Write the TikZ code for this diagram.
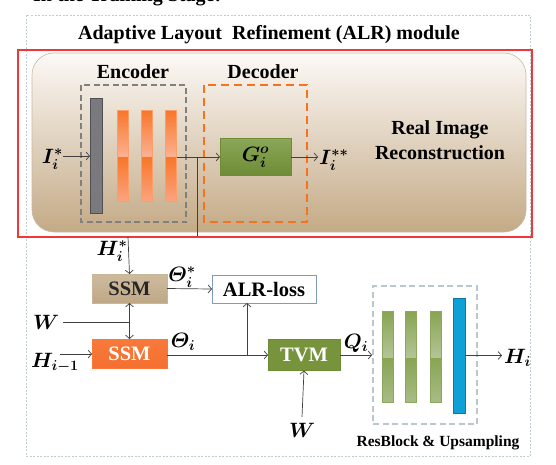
\documentclass[tikz,border=0pt]{standalone}
\usepackage{fontspec}
\setmainfont{Liberation Serif}
\usepackage{amsmath,bm}
\usetikzlibrary{arrows.meta}
\definecolor{tanA}{RGB}{252,249,246}
\definecolor{tanB}{RGB}{196,170,134}
\definecolor{tanE}{RGB}{200,185,165}
\definecolor{redF}{RGB}{240,56,58}
\definecolor{outerc}{RGB}{192,204,208}
\definecolor{encc}{RGB}{128,128,128}
\definecolor{decc}{RGB}{244,115,33}
\definecolor{ora}{RGB}{248,118,40}
\definecolor{oraL}{RGB}{252,178,148}
\definecolor{oraM}{RGB}{251,164,128}
\definecolor{grn}{RGB}{119,147,60}
\definecolor{grnT}{RGB}{138,166,88}
\definecolor{grnB}{RGB}{110,140,54}
\definecolor{gbA}{RGB}{136,164,82}
\definecolor{gbL}{RGB}{180,196,152}
\definecolor{gbM}{RGB}{168,188,136}
\definecolor{gbE}{RGB}{140,168,92}
\definecolor{bluebar}{RGB}{14,160,214}
\definecolor{blueE}{RGB}{10,120,168}
\definecolor{rbc}{RGB}{184,200,204}
\definecolor{ssmT}{RGB}{205,187,159}
\definecolor{ssmM}{RGB}{222,210,192}
\definecolor{ssmB}{RGB}{191,167,132}
\definecolor{ssmE}{RGB}{200,182,150}
\definecolor{soT}{RGB}{248,121,58}
\definecolor{soM}{RGB}{250,156,110}
\definecolor{soB}{RGB}{244,112,48}
\definecolor{alrE}{RGB}{127,156,192}
\definecolor{grayE}{RGB}{80,80,84}
\definecolor{grayF}{RGB}{122,122,126}
\definecolor{linec}{RGB}{64,64,64}
\begin{document}
\begin{tikzpicture}[x=1pt,y=-1pt,
  lbl/.style={font=\fontsize{20}{24}\selectfont\bfseries, inner sep=0pt},
  mlbl/.style={font=\fontsize{22}{26}\selectfont, inner sep=0pt},
  arr/.style={draw=linec, line width=0.7pt, -{Straight Barb[length=3.5pt,width=8pt]}},
  darr/.style={draw=linec, line width=0.7pt, {Straight Barb[length=3.5pt,width=8pt]}-{Straight Barb[length=3.5pt,width=8pt]}},
  ln/.style={draw=linec, line width=0.7pt},
  bar/.style={minimum width=11pt, inner sep=0pt, outer sep=0pt},
  boxn/.style={inner sep=0pt, outer sep=0pt, font=\fontsize{20.5}{24}\selectfont\bfseries}
]
\useasboundingbox (0,0) rectangle (556,464);
\clip (0,0) rectangle (556,464);

% top (cut) caption
\node[lbl, anchor=base west] (cap) at (33,1) {In the Training Stage:};

% outer dashed frame
\draw[outerc, line width=0.8pt, dash pattern=on 2pt off 1.5pt] (26,15) rectangle (530,456);

\node[lbl] (title) at (269,35) {Adaptive Layout\ \ Refinement (ALR) module};

% tan rounded panel
\path[draw=tanE, line width=0.6pt, top color=tanA, bottom color=tanB, rounded corners=22pt] (32,53) rectangle (526,232);

% encoder / decoder frames
\draw[encc, line width=1.8pt, dash pattern=on 6pt off 3.5pt] (81,85) rectangle (186,222);
\draw[decc, line width=1.8pt, dash pattern=on 8pt off 5pt] (204,85) rectangle (307,222);
\node[lbl] (enc) at (133,72) {Encoder};
\node[lbl] (dec) at (263,72) {Decoder};

% encoder bars
\node[bar, minimum width=12pt, minimum height=115pt, draw=grayE, fill=grayF, line width=0.6pt] (gbar) at (96,156) {};
\foreach \i/\x in {1/123,2/147,3/171}{
  \node[bar, minimum height=91pt] (ob\i) at (\x,155.5) {};
  \path[top color=ora, bottom color=oraL] (\x-5.5,110) rectangle (\x+5.5,157);
  \path[top color=ora, bottom color=oraM] (\x-5.5,157) rectangle (\x+5.5,201);
  \draw[ora!70, line width=0.4pt] (\x-5.5,110) rectangle (\x+5.5,201);
}

% decoder box
\node[inner sep=0pt, outer sep=0pt, font=\fontsize{22}{26}\selectfont, minimum width=71pt, minimum height=37pt, top color=grnT, bottom color=grnB, draw=grnB, line width=0.4pt] (G) at (255.5,157) {$\bm{G_i^{o}}$};

\node[mlbl, anchor=east] (Iin) at (63,159) {$\bm{I_i^{*}}$};
\node[mlbl, anchor=west] (Iout) at (319,160) {$\bm{I_i^{**}}$};
\node[lbl, align=center, font=\fontsize{20}{25}\selectfont\bfseries] (rir) at (440,140) {Real Image\\Reconstruction};

\coordinate (br) at (197,157);
\coordinate (hs) at (197,237);
\coordinate (ht) at (128,237);
\coordinate (obr) at (176.5,157);
\coordinate (gout) at (318,157);

\draw[arr] (Iin.east |- gbar.west) -- (gbar.west);
\draw[arr] (obr) -- (G.west);
\draw[arr] (G.east) -- (gout);
\draw[ln] (br) -- (hs) -- (ht);

% red frame
\draw[redF, line width=2.5pt] (18,50) rectangle (532,237);

% lower part
\node[boxn, minimum width=75pt, minimum height=29pt, draw=ssmE, line width=0.5pt,
      top color=ssmT, middle color=ssmM, bottom color=ssmB, text=black!85] (ssm1) at (129.5,288.5) {SSM};
\node[boxn, minimum width=75pt, minimum height=29pt, draw=soT, line width=0.5pt,
      top color=soT, middle color=soM, bottom color=soB, text=white] (ssm2) at (129.5,353.5) {SSM};
\node[boxn, minimum width=104pt, minimum height=28pt, draw=alrE, fill=white, line width=0.7pt] (alr) at (264,289) {ALR-loss};
\node[boxn, minimum width=72pt, minimum height=31pt, draw=grnB, fill=grn, line width=0.5pt, text=white] (tvm) at (304,355) {TVM};

\node[mlbl] (Hs) at (112,251) {$\bm{H_i^{*}}$};
\node[mlbl] (W1) at (46,322) {$\bm{W}$};
\node[mlbl] (Hm) at (55,363) {$\bm{H_{i-1}}$};
\node[mlbl] (Ths) at (182,277) {$\bm{\varTheta_i^{*}}$};
\node[mlbl] (Th) at (183,342) {$\bm{\varTheta_i}$};
\node[mlbl] (W2) at (302,430) {$\bm{W}$};
\node[mlbl] (Q) at (356,343) {$\bm{Q_i}$};

\coordinate (hm0) at (60,354);
\coordinate (tb) at (247,355);
\coordinate (w2s) at (302,417);
\coordinate (ssmout) at (ssm2.east |- tvm.west);

\draw[arr] (ht) -- (ssm1.north);
\draw[darr] (ssm1.south) -- (ssm2.north);
\draw[ln] (W1.east) ++(4,0) -- (W1.east -| ssm1.south);
\draw[arr] (hm0) -- (hm0 -| ssm2.west);
\draw[arr] (ssm1.east) -- (alr.west);
\draw[arr] (ssmout) -- (tvm.west);
\draw[arr] (tb) -- (tb |- alr.south);
\draw[arr] (w2s) -- (tvm.south);

% ResBlock & Upsampling
\node[inner sep=0pt, minimum width=104pt, minimum height=138pt, draw=rbc, line width=1.8pt, dash pattern=on 6pt off 3.5pt] (rbox) at (425,355) {};
\foreach \i/\x in {1/387.5,2/411,3/436}{
  \node[bar, minimum height=91pt] (gb\i) at (\x,356.5) {};
  \path[top color=gbA, bottom color=gbL] (\x-5.5,311) rectangle (\x+5.5,358);
  \path[top color=gbA, bottom color=gbM] (\x-5.5,358) rectangle (\x+5.5,402);
  \draw[gbE, line width=0.4pt] (\x-5.5,311) rectangle (\x+5.5,402);
}
\node[bar, minimum width=12pt, minimum height=115pt, draw=blueE, fill=bluebar, line width=0.6pt] (bb) at (459,355.5) {};
\node[font=\fontsize{15.5}{18}\selectfont\bfseries, inner sep=0pt] (rbl) at (438,443) {ResBlock \& Upsampling};
\node[mlbl, anchor=west] (Hi) at (504,358) {$\bm{H_i}$};
\coordinate (hout) at (502,355.5);

\draw[arr] (tvm.east) -- (rbox.west);
\draw[arr] (bb.east) -- (hout);
\end{tikzpicture}
\end{document}
